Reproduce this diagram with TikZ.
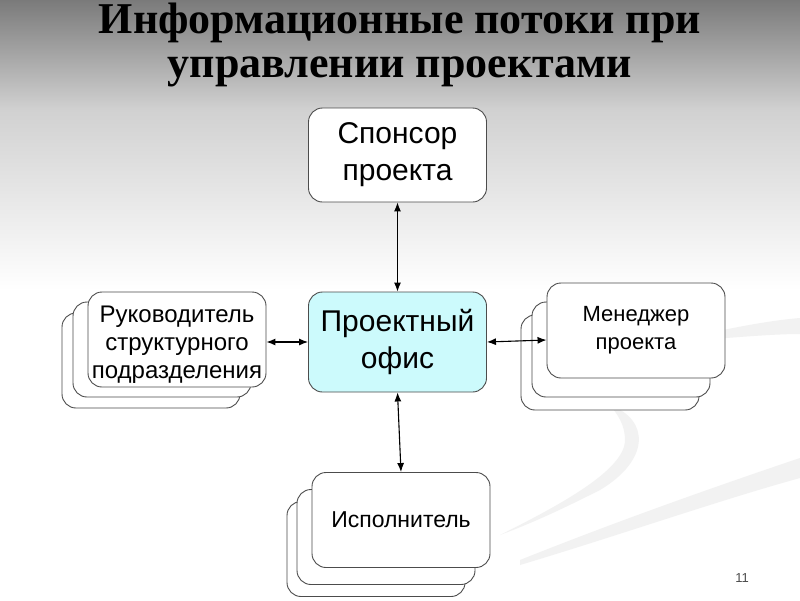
\documentclass[tikz,border=0pt]{standalone}
\usepackage{fontspec}
\setmainfont{Liberation Sans}
\newfontfamily\titlefont{Liberation Serif}
\usetikzlibrary{arrows.meta,calc}
\begin{document}
\begin{tikzpicture}[x=1pt,y=-1pt,
  box/.style={draw=black!70, line width=0.9pt, rounded corners=14pt, fill=white,
    minimum width=178pt, minimum height=95pt, align=center, inner sep=0pt,
    font=\fontsize{22}{28}\selectfont},
  bigbox/.style={box, font=\fontsize{30}{37}\selectfont},
  titletext/.style={font=\titlefont\bfseries\fontsize{44}{44}\selectfont, anchor=base},
  link/.style={line width=1.1pt, {Latex[length=9pt,width=7pt]}-{Latex[length=9pt,width=7pt]}},
  swoosh/.style={fill=black!5, draw=none}]
\useasboundingbox (0,0) rectangle (800,600);
% background
\fill[white] (0,0) rectangle (800,600);
\shade[top color=black!52, bottom color=black!18, draw=none] (0,0) rectangle (800,110);
\shade[top color=black!18, bottom color=white, draw=none] (0,110) rectangle (800,290);
% swooshes
\fill[swoosh] (700,335) .. controls (740,326) and (775,320) .. (800,318) -- (800,334) .. controls (775,334) and (740,337) .. (700,340) -- cycle;
\fill[swoosh] (610,405) .. controls (650,420) and (650,460) .. (600,490) .. controls (570,505) and (540,520) .. (500,535) .. controls (560,505) and (625,470) .. (625,440) .. controls (625,425) and (618,415) .. (610,405) -- cycle;
\fill[swoosh] (520,560) .. controls (620,520) and (720,485) .. (800,458) -- (800,478) .. controls (720,500) and (620,535) .. (520,565) -- cycle;
% title
\node[titletext] (title1) at (400,33) {Информационные потоки при};
\node[titletext] (title2) at (400,77) {управлении проектами};
% central boxes
\node[bigbox] (sp) at (397.5,155) [minimum height=94pt] {Спонсор\\проекта};
\node[bigbox, fill={rgb,255:red,204;green,250;blue,252}] (po) at (397.5,342) [minimum height=100pt] {Проектный\\офис};
% left stack
\node[box] (lb3) at (151,360.5) {};
\node[box] (lb2) at (162,349.5) {};
\node[box, font=\fontsize{24}{28}\selectfont] (lf) at (177,339.5) {\rule{0pt}{26pt}Руководитель\\структурного\\подразделения};
% right stack
\node[box] (rb3) at (610,362.5) {};
\node[box] (rb2) at (621,349.5) {};
\node[box] (rf) at (636,330.5) {Менеджер\\проекта};
% bottom stack
\node[box] (bb3) at (376,549) {};
\node[box] (bb2) at (386,537) {};
\node[box, font=\fontsize{23}{28}\selectfont] (bf) at (401,520) {Исполнитель};
% connectors
\draw[link] (sp.south) -- (po.north);
\draw[link] (po.west) -- (po.west -| lf.east);
\draw[link] (po.east) -- ($(rf.west)+(0,9.5)$);
\draw[link] (po.south) -- (bf.north);
% page number
\node[font=\fontsize{13}{15}\selectfont, text=black!70] (num) at (742,578) {11};
\end{tikzpicture}
\end{document}
